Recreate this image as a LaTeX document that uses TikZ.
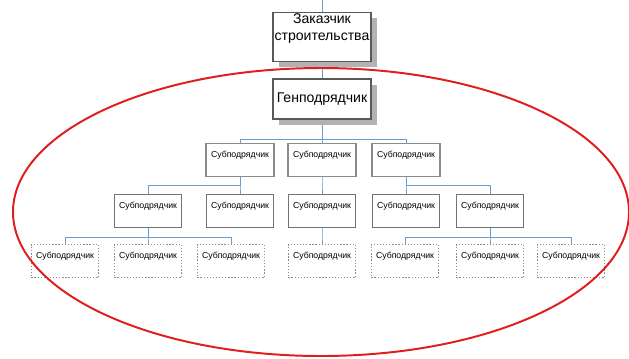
\documentclass[tikz,border=0pt]{standalone}
\usepackage{fontspec}
\setmainfont{Liberation Sans}
\usetikzlibrary{shadows, backgrounds}
\definecolor{linkblue}{RGB}{105,155,215}
\definecolor{ovalred}{RGB}{225,30,30}

\begin{document}
\begin{tikzpicture}[x=0.025cm, y=-0.025cm,
        mainbox/.style={draw=black!65, line width=1.2pt, fill=white, align=center,
            minimum width=70pt, inner sep=1pt, font=\fontsize{10}{11.5}\selectfont,
            drop shadow={shadow xshift=4.2pt, shadow yshift=-4.2pt, fill=black!30, opacity=1}},
        subbox/.style={draw=black!55, line width=0.9pt, fill=white, minimum width=47.5pt,
            inner ysep=0pt, text height=10pt, text depth=13.4pt,
            font=\fontsize{6.2}{7}\selectfont},
        dotbox/.style={subbox, draw=black!45, line width=0.8pt, dash pattern=on 0.9pt off 1.3pt},
        link/.style={draw=linkblue, line width=0.6pt}
    ]
        \useasboundingbox (0,0) rectangle (629,358);

        % Client and general contractor
        \node[mainbox, minimum height=34.9pt, text depth=14pt] (client) at (322,37) {Заказчик\\строительства};
        \node[mainbox, minimum height=28.5pt] (gen) at (322,99) {Генподрядчик};
        \coordinate (top) at (322,0);

        % Level 2
        \node[subbox, line width=1.3pt, draw=black!45] (s1) at (240,160) {Субподрядчик};
        \node[subbox, line width=1.3pt, draw=black!45] (s2) at (322,160) {Субподрядчик};
        \node[subbox, line width=1.3pt, draw=black!45] (s3) at (406,160) {Субподрядчик};

        % Level 3
        \node[subbox] (t1) at (148,211) {Субподрядчик};
        \node[subbox] (t2) at (240,211) {Субподрядчик};
        \node[subbox] (t3) at (322,211) {Субподрядчик};
        \node[subbox] (t4) at (406,211) {Субподрядчик};
        \node[subbox] (t5) at (490,211) {Субподрядчик};

        % Level 4
        \node[dotbox] (u1) at (65,261) {Субподрядчик};
        \node[dotbox] (u2) at (148,261) {Субподрядчик};
        \node[dotbox] (u3) at (231,261) {Субподрядчик};
        \node[dotbox] (u4) at (322,261) {Субподрядчик};
        \node[dotbox] (u5) at (405,261) {Субподрядчик};
        \node[dotbox] (u6) at (490,261) {Субподрядчик};
        \node[dotbox] (u7) at (571,261) {Субподрядчик};

        % Connectors
        \begin{scope}[on background layer]
            \draw[link] (top) -- (client);
            \draw[link] (client) -- (gen);
            \foreach \c in {s1,s2,s3}
                \draw[link] (gen.south) -- ++(0,20) -| (\c.north);
            \foreach \p/\c in {s1/t1, s1/t2, s2/t3, s3/t4, s3/t5}
                \draw[link] (\p.south) -- ++(0,8) -| (\c.north);
            \foreach \p/\c in {t1/u1, t1/u2, t1/u3, t3/u4, t5/u5, t5/u6, t5/u7}
                \draw[link] (\p.south) -- ++(0,9) -| (\c.north);
        \end{scope}

        % Red oval
        \draw[ovalred, line width=1.4pt] (321,212) ellipse [x radius=308, y radius=144];
    \end{tikzpicture}
\end{document}
